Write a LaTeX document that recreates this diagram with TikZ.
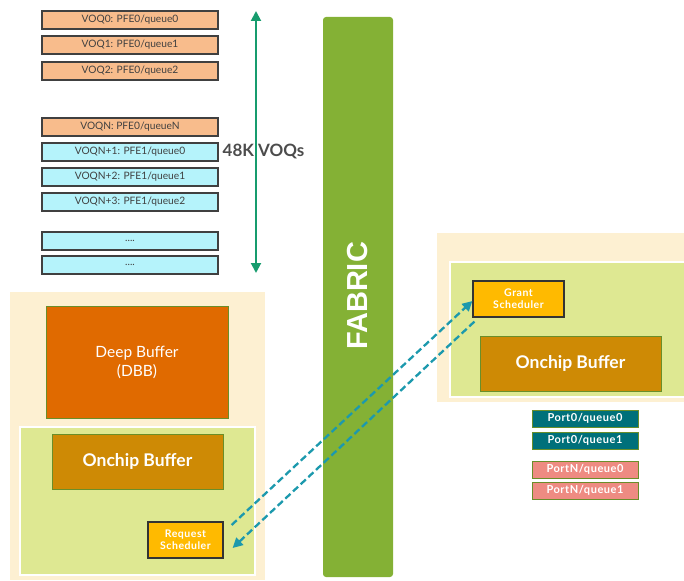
\documentclass[tikz,border=0pt]{standalone}
\usepackage{fontspec}
\setmainfont{Lato}
\newfontfamily\fabricfont{Liberation Sans}
\newfontfamily\widefont[LetterSpace=5]{Lato}
\usetikzlibrary{arrows.meta}
\definecolor{voqpeach}{HTML}{F8BC8C}
\definecolor{voqcyan}{HTML}{B5F3FB}
\definecolor{voqgreen}{HTML}{179C6E}
\definecolor{fabricgreen}{HTML}{84B135}
\definecolor{areabeige}{HTML}{FDF0D2}
\definecolor{arealime}{HTML}{DEE892}
\definecolor{deeporange}{HTML}{E06A00}
\definecolor{onchipgold}{HTML}{CE8A05}
\definecolor{schedyellow}{HTML}{FFBA00}
\definecolor{portteal}{HTML}{00707A}
\definecolor{portsalmon}{HTML}{EE8B82}
\definecolor{arrowteal}{HTML}{1C99AD}
\definecolor{bordergreen}{HTML}{6A8E2A}
\begin{document}
\begin{tikzpicture}
[x=1pt,y=-1pt,
  voqdecorate/.style={draw=black!75,line width=1.3pt,minimum width=176pt,
    minimum height=18pt,inner sep=0pt,text=black!75,
    font=\fontsize{10.2}{12}\selectfont},
  bufferdecorate/.style={draw=bordergreen,line width=1pt,text=white,
    inner sep=0pt,align=center},
  scheddecorate/.style={draw=black!80,line width=1.2pt,fill=schedyellow,
    text=white,font=\widefont\bfseries\fontsize{10.5}{12}\selectfont,align=center,
    inner sep=0pt,minimum height=36pt},
  portdecorate/.style={draw=bordergreen,line width=1pt,text=white,
    minimum width=106pt,minimum height=17pt,inner sep=0pt,
    font=\widefont\bfseries\fontsize{11}{13}\selectfont},
  linedecorate/.style={draw=arrowteal,line width=2.3pt,
    dash pattern=on 7pt off 3.5pt,-{Triangle[length=10pt,width=10pt]}}]
\useasboundingbox (0,0) rectangle (684,580);
%% background areas
\fill[areabeige] (10,292) rectangle (265,580);
\filldraw[fill=arealime,draw=white,line width=1.5pt] (20,427) rectangle (255,575);
\fill[areabeige] (437,233) rectangle (684,402);
\filldraw[fill=arealime,draw=white,line width=1.5pt] (450,262) rectangle (686,397);
%% virtual output queues
\foreach \nodename/\y/\colour/\label in {voq0/20/voqpeach/{VOQ0: PFE0/queue0},
  voq1/45/voqpeach/{VOQ1: PFE0/queue1}, voq2/71/voqpeach/{VOQ2: PFE0/queue2},
  voqn/127/voqpeach/{VOQN: PFE0/queueN}, voqna/152/voqcyan/{VOQN+1: PFE1/queue0},
  voqnb/177/voqcyan/{VOQN+2: PFE1/queue1}, voqnc/202/voqcyan/{VOQN+3: PFE1/queue2},
  voqx/241/voqcyan/{....}, voqy/265/voqcyan/{....}} {
  \node (\nodename) at (130,\y) [voqdecorate,fill=\colour] {\label};
}
\coordinate (voqtop) at (256,11);
\coordinate (voqbot) at (256,273);
\draw[voqgreen,line width=2pt,{Triangle[length=10pt,width=10pt]}-{Triangle[length=10pt,width=10pt]}]
  (voqtop) -- (voqbot);
\node (voqcount) at (263.5,151) [text=black!70,font=\bfseries\fontsize{17}{20}\selectfont] {48K VOQs};
%% fabric
\node (fabric) at (358,297) [fill=fabricgreen,rounded corners=3pt,minimum width=70pt,
  minimum height=560pt,inner sep=0pt] {};
\node at (358,296) [rotate=90,text=white,font=\fabricfont\bfseries\fontsize{29}{34}\selectfont] {FABRIC};
%% ingress side
\node (dbb) at (137,362) [bufferdecorate,fill=deeporange,minimum width=182pt,
  minimum height=112pt,font=\fontsize{15.5}{19}\selectfont] {Deep Buffer\\(DBB)};
\node (onchipin) at (137.5,461.5) [bufferdecorate,fill=onchipgold,minimum width=171pt,
  minimum height=55pt,font=\bfseries\fontsize{17.5}{21}\selectfont] {Onchip Buffer};
\node (reqsched) at (185.5,540) [scheddecorate,minimum width=75pt] {Request\\Scheduler};
%% egress side
\node (grantsched) at (518.5,299) [scheddecorate,minimum width=91pt] {Grant\\Scheduler};
\node (onchipout) at (570.5,363.5) [bufferdecorate,fill=onchipgold,minimum width=181pt,
  minimum height=55pt,font=\bfseries\fontsize{17.5}{21}\selectfont] {Onchip Buffer};
\foreach \nodename/\y/\colour/\label in {p0q0/418.5/portteal/{Port0/queue0},
  p0q1/440.5/portteal/{Port0/queue1}, pnq0/469.5/portsalmon/{PortN/queue0},
  pnq1/490.5/portsalmon/{PortN/queue1}} {
  \node (\nodename) at (585,\y) [portdecorate,fill=\colour] {\label};
}
%% request and grant
\draw[linedecorate] ([xshift=8pt,yshift=15pt]reqsched.east) -- ([yshift=-2pt]grantsched.west);
\draw[linedecorate] ([xshift=2pt,yshift=-4pt]grantsched.south west) -- ([xshift=9pt,yshift=-8pt]reqsched.east);
\end{tikzpicture}
\end{document}
